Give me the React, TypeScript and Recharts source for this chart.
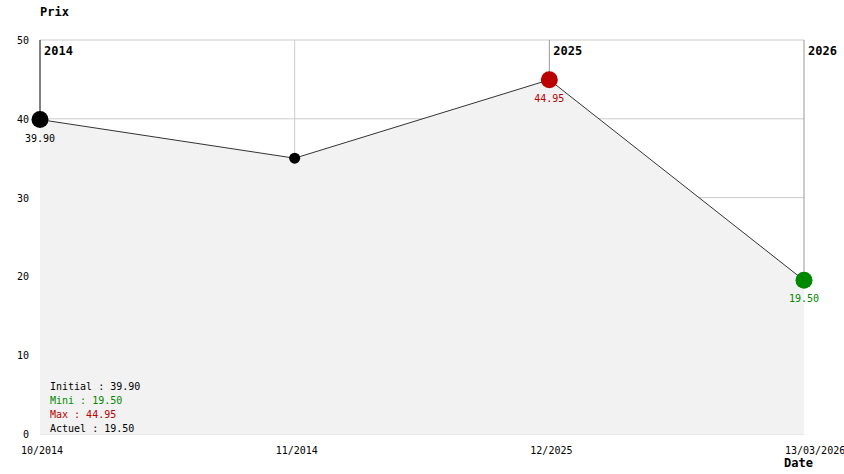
import React from 'react';
import { AreaChart, Area, XAxis, YAxis, CartesianGrid, ReferenceLine, LabelList } from 'recharts';

const categories = ['10/2014', '11/2014', '12/2025', '13/03/2026'];
const prices = [39.9, 35.0, 44.95, 19.5];
const yearLabels = ['2014', '', '2025', '2026'];
const yearLineColors = ['#000000', '#cccccc', '#999999', '#999999'];
const yTicks = [0, 10, 20, 30, 40, 50];
const summary = [
  { text: 'Initial : 39.90', color: '#000000' },
  { text: 'Mini : 19.50', color: '#008800' },
  { text: 'Max : 44.95', color: '#bb0000' },
  { text: 'Actuel : 19.50', color: '#000000' },
];

const FONT = '"DejaVu Sans Mono", "Liberation Mono", monospace';
const data = categories.map((c, i) => ({ idx: i, label: c, price: prices[i] }));

const maxIdx = prices.indexOf(Math.max(...prices));
const minIdx = prices.indexOf(Math.min(...prices));
const lastIdx = prices.length - 1;

function pointColor(i: number) {
  if (i === lastIdx && i === minIdx) return '#008800';
  if (i === maxIdx) return '#bb0000';
  if (i === minIdx) return '#008800';
  return '#000000';
}
function showBig(i: number) {
  return i === 0 || i === lastIdx || i === maxIdx || i === minIdx;
}

const Dot = (props: any) => {
  const { cx, cy, index } = props;
  const big = showBig(index);
  return <circle key={`d${index}`} cx={cx} cy={cy} r={big ? 8.5 : 5.5} fill={pointColor(index)} stroke="none" />;
};

const ValueLabel = (props: any) => {
  const { x, y, index, value } = props;
  if (!showBig(index)) return null;
  return (
    <text key={`l${index}`} x={x} y={y + 22} textAnchor="middle" fontFamily={FONT} fontSize={10} fill={pointColor(index)}>
      {Number(value).toFixed(2)}
    </text>
  );
};

const XTick = (props: any) => {
  const { x, y, payload } = props;
  return (
    <text x={x - 19} y={y + 12} textAnchor="start" fontFamily={FONT} fontSize={10} fill="#000">
      {categories[payload.value]}
    </text>
  );
};

const YTick = (props: any) => {
  const { x, y, payload } = props;
  return (
    <text x={x} y={y + 4} textAnchor="end" fontFamily={FONT} fontSize={10} fill="#000">
      {payload.value}
    </text>
  );
};

const YearLabel = (text: string) => (props: any) => {
  const vb = props.viewBox || {};
  return (
    <text x={(vb.x ?? 0) + 4} y={(vb.y ?? 0) + 15} fontFamily={FONT} fontSize={12} fontWeight="bold" fill="#000">
      {text}
    </text>
  );
};

export default function App() {
  return (
    <div style={{ position: 'absolute', left: 0, top: 0, width: 844, height: 474, background: '#fff' }}>
      <AreaChart width={844} height={474} data={data} margin={{ top: 40, right: 40, bottom: 0, left: 0 }}>
        <CartesianGrid vertical={false} stroke="#cccccc" strokeDasharray="" />
        <XAxis
          dataKey="idx"
          type="number"
          domain={[0, lastIdx]}
          ticks={data.map((d) => d.idx)}
          axisLine={false}
          tickLine={false}
          height={40}
          tick={<XTick />}
          interval={0}
        />
        <YAxis
          domain={[0, 50]}
          ticks={yTicks}
          axisLine={false}
          tickLine={false}
          tickSize={0}
          tickMargin={11}
          width={40}
          tick={<YTick />}
          interval={0}
        />
        {data.map((d, i) => (
          <ReferenceLine
            key={`seg${i}`}
            segment={[{ x: d.idx, y: d.price }, { x: d.idx, y: 50 }]}
            stroke={yearLineColors[i]}
            strokeWidth={1}
          />
        ))}
        {data.map((d, i) =>
          yearLabels[i] ? (
            <ReferenceLine key={`yl${i}`} x={d.idx} stroke="none" label={YearLabel(yearLabels[i])} />
          ) : null
        )}
        <Area
          type="linear"
          dataKey="price"
          stroke="#333333"
          strokeWidth={1}
          fill="#f2f2f2"
          fillOpacity={1}
          baseValue={0}
          dot={(p: any) => <Dot {...p} />}
          activeDot={false}
          isAnimationActive={false}
        >
          <LabelList dataKey="price" content={<ValueLabel />} />
        </Area>
      </AreaChart>
      <svg width={844} height={474} style={{ position: 'absolute', left: 0, top: 0, pointerEvents: 'none' }}>
        <text x={40} y={16} fontFamily={FONT} fontSize={12} fontWeight="bold" fill="#000">Prix</text>
        <text x={784} y={467} fontFamily={FONT} fontSize={12} fontWeight="bold" fill="#000">Date</text>
        {summary.map((s, i) => (
          <text key={s.text} x={50} y={390 + i * 14} fontFamily={FONT} fontSize={10} fill={s.color}>
            {s.text}
          </text>
        ))}
      </svg>
    </div>
  );
}
